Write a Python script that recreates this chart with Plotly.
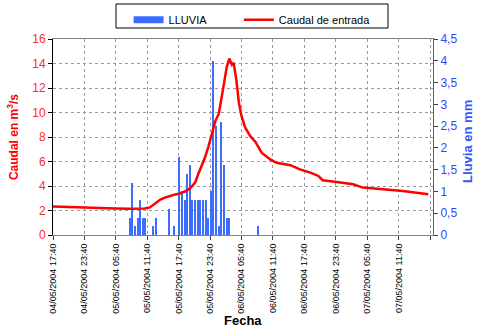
import plotly.graph_objects as go

# Rain (LLUVIA, mm) - 30 min readings
rain_time = [
    "2004-05-05 08:20", "2004-05-05 08:50", "2004-05-05 09:20", "2004-05-05 09:50",
    "2004-05-05 10:20", "2004-05-05 10:50", "2004-05-05 11:20", "2004-05-05 12:50",
    "2004-05-05 13:20", "2004-05-05 15:50", "2004-05-05 16:50", "2004-05-05 17:50",
    "2004-05-05 18:20", "2004-05-05 18:50", "2004-05-05 19:20", "2004-05-05 19:50",
    "2004-05-05 20:20", "2004-05-05 20:50", "2004-05-05 21:20", "2004-05-05 21:50",
    "2004-05-05 22:20", "2004-05-05 22:50", "2004-05-05 23:20", "2004-05-05 23:50",
    "2004-05-06 00:20", "2004-05-06 00:50", "2004-05-06 01:20", "2004-05-06 01:50",
    "2004-05-06 02:20", "2004-05-06 02:50", "2004-05-06 03:20", "2004-05-06 08:50",
]
rain_mm = [
    0.4, 1.2, 0.2, 0.4,
    0.8, 0.4, 0.4, 0.2,
    0.4, 0.6, 0.2, 1.8,
    1.0, 0.8, 1.4, 1.6,
    0.8, 0.8, 0.8, 0.8,
    0.8, 0.8, 0.4, 1.0,
    4.0, 2.5, 0.2, 2.6,
    1.6, 0.4, 0.4, 0.2,
]

# Inflow (Caudal de entrada, m3/s)
flow_time = [
    "2004-05-04 17:40", "2004-05-04 20:00", "2004-05-04 21:50", "2004-05-04 23:50",
    "2004-05-05 02:40", "2004-05-05 05:40", "2004-05-05 08:20", "2004-05-05 10:20",
    "2004-05-05 11:10", "2004-05-05 12:10", "2004-05-05 13:10", "2004-05-05 14:10",
    "2004-05-05 15:00", "2004-05-05 16:00", "2004-05-05 17:00", "2004-05-05 17:50",
    "2004-05-05 18:50", "2004-05-05 19:50", "2004-05-05 20:50", "2004-05-05 21:20",
    "2004-05-05 22:10", "2004-05-05 22:40", "2004-05-05 23:20", "2004-05-06 00:00",
    "2004-05-06 00:40", "2004-05-06 01:20", "2004-05-06 01:50", "2004-05-06 02:20",
    "2004-05-06 02:50", "2004-05-06 03:20", "2004-05-06 03:50", "2004-05-06 04:10",
    "2004-05-06 04:40", "2004-05-06 05:10", "2004-05-06 05:40", "2004-05-06 06:20",
    "2004-05-06 07:20", "2004-05-06 08:20", "2004-05-06 09:30", "2004-05-06 11:10",
    "2004-05-06 12:20", "2004-05-06 15:00", "2004-05-06 16:50", "2004-05-06 18:50",
    "2004-05-06 20:20", "2004-05-06 21:10", "2004-05-06 23:50", "2004-05-07 03:00",
    "2004-05-07 04:50", "2004-05-07 07:30", "2004-05-07 10:00", "2004-05-07 12:30",
    "2004-05-07 17:20",
]
flow_m3s = [
    2.32, 2.28, 2.25, 2.22,
    2.19, 2.17, 2.15, 2.15,
    2.16, 2.25, 2.6, 2.9,
    3.05, 3.2, 3.3, 3.38,
    3.55, 3.8, 4.3, 4.9,
    5.7, 6.3, 7.2, 8.2,
    9.3, 9.9, 11.0, 12.4,
    13.7, 14.4, 13.9, 14.05,
    12.7, 10.8, 9.7, 8.8,
    8.07, 7.6, 6.72, 6.17,
    5.9, 5.7, 5.36, 5.09,
    4.82, 4.47, 4.33, 4.14,
    3.87, 3.79, 3.68, 3.6,
    3.33,
]

tick_vals = [
    "2004-05-04 17:40", "2004-05-04 23:40", "2004-05-05 05:40", "2004-05-05 11:40",
    "2004-05-05 17:40", "2004-05-05 23:40", "2004-05-06 05:40", "2004-05-06 11:40",
    "2004-05-06 17:40", "2004-05-06 23:40", "2004-05-07 05:40", "2004-05-07 11:40",
    "2004-05-07 17:40",
]
tick_text = [
    "04/05/2004 17:40", "04/05/2004 23:40", "05/05/2004 05:40", "05/05/2004 11:40",
    "05/05/2004 17:40", "05/05/2004 23:40", "06/05/2004 05:40", "06/05/2004 11:40",
    "06/05/2004 17:40", "06/05/2004 23:40", "07/05/2004 05:40", "07/05/2004 11:40",
    "",
]

FONT = "Liberation Sans, Arial, sans-serif"
BLUE_BAR = "#3d6cff"
BLUE_TXT = "#3344ff"
RED = "#ff0000"

fig = go.Figure()
fig.add_trace(go.Bar(
    x=rain_time, y=rain_mm, name="LLUVIA", yaxis="y",
    marker=dict(color=BLUE_BAR, line=dict(width=0)),
    width=15 * 60 * 1000, showlegend=False,
))
fig.add_trace(go.Scatter(
    x=flow_time, y=flow_m3s, name="Caudal de entrada", yaxis="y2",
    mode="lines", line=dict(color=RED, width=2.5), showlegend=False,
))
# legend-only entries (no data)
fig.add_trace(go.Scatter(
    x=[None], y=[None], name="LLUVIA", mode="lines",
    line=dict(color=BLUE_BAR, width=7), legend="legend",
))
fig.add_trace(go.Scatter(
    x=[None], y=[None], name="Caudal de entrada", mode="lines",
    line=dict(color=RED, width=2.5), yaxis="y2", legend="legend2",
))

leg_common = dict(
    orientation="h", xanchor="left", y=1.172, yanchor="top",
    borderwidth=0, bgcolor="rgba(0,0,0,0)",
    font=dict(size=11, family=FONT, color="black"),
)

fig.update_layout(
    width=479, height=329,
    margin=dict(l=53, r=46, t=39, b=94, autoexpand=False),
    paper_bgcolor="white", plot_bgcolor="white",
    font=dict(family=FONT, size=11, color="black"),
    separators=",.",
    showlegend=True,
    bargap=0,
    legend=dict(x=0.199, **leg_common),
    legend2=dict(x=0.489, **leg_common),
    shapes=[dict(
        type="rect", xref="paper", yref="paper",
        x0=0.1658, x1=0.8816, y0=1.056, y1=1.1786,
        line=dict(color="black", width=1), fillcolor="rgba(0,0,0,0)",
    )],
    annotations=[
        dict(text="<b>Fecha</b>", xref="paper", yref="paper", x=0.5, y=-0.434,
             xanchor="center", yanchor="middle", showarrow=False,
             font=dict(size=13, family=FONT, color="black")),
        dict(text="<b>Caudal en m<sup>3</sup>/s</b>", xref="paper", yref="paper",
             x=-0.105, y=0.5, xanchor="center", yanchor="middle", textangle=-90,
             showarrow=False, font=dict(size=12, family=FONT, color=RED)),
        dict(text="<b>Lluvia en mm</b>", xref="paper", yref="paper",
             x=1.092, y=0.48, xanchor="center", yanchor="middle", textangle=-90,
             showarrow=False, font=dict(size=13, family=FONT, color="#3355ff")),
    ],
    xaxis=dict(
        type="date", automargin=False,
        range=["2004-05-04 17:40", "2004-05-07 18:14"],
        tickvals=tick_vals, ticktext=tick_text, tickangle=-90,
        tickfont=dict(size=9, family=FONT, color="black"),
        ticks="outside", ticklen=4, tickcolor="#404040",
        showgrid=True, gridcolor="#9a9a9a", griddash="dot", gridwidth=1,
        showline=True, linecolor="#808080", linewidth=1, mirror=True,
        zeroline=False,
    ),
    yaxis=dict(
        side="right", range=[0, 4.5], dtick=0.5, tick0=0, automargin=False,
        tickfont=dict(size=12, family=FONT, color=BLUE_TXT),
        ticks="outside", ticklen=4, tickcolor="#404040",
        showgrid=False, zeroline=False,
        showline=True, linecolor="#606060", linewidth=1,
    ),
    yaxis2=dict(
        side="left", overlaying="y", range=[0, 16], dtick=2, tick0=0, automargin=False,
        tickfont=dict(size=12, family=FONT, color="#ff2a2a"),
        ticks="outside", ticklen=4, tickcolor="black",
        showgrid=True, gridcolor="#9a9a9a", griddash="dot", gridwidth=1,
        zeroline=False,
        showline=True, linecolor="black", linewidth=1,
    ),
)

fig.write_html("out.html")
